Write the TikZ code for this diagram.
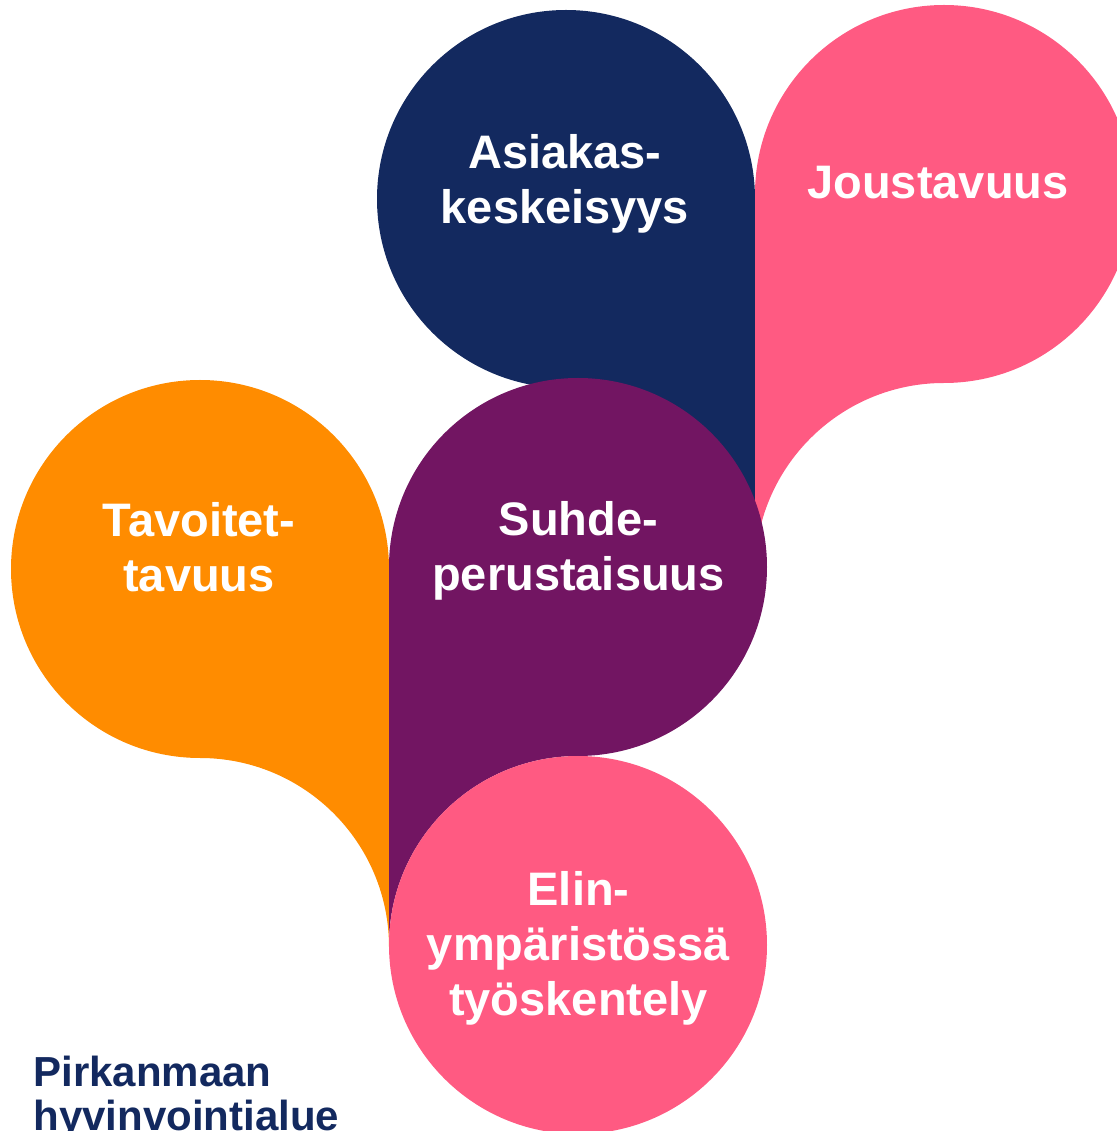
\documentclass[tikz,border=0pt]{standalone}
\usepackage{fontspec}
\setmainfont{Liberation Sans}
\definecolor{phnavy}{RGB}{19,41,95}
\definecolor{phpink}{RGB}{255,90,130}
\definecolor{phpurple}{RGB}{114,21,98}
\definecolor{phorange}{RGB}{255,140,0}
\tikzset{
    drop/.style={fill=#1, draw=none},
    droptext/.style={%
        text=white, align=center,
        font=\fontsize{23.5}{27.5}\selectfont\bfseries
        },
    logotext/.style={%
        text=phnavy, align=left, inner sep=0pt,
        font=\fontsize{21}{22}\selectfont\bfseries
        }
}
\begin{document}
\begin{tikzpicture}[x=0.5pt, y=0.5pt]

\useasboundingbox (0,0) rectangle (1117,1131);
\clip (0,0) rectangle (1117,1131);

% drops, tail to the right
\fill[drop=phorange] (389,184) -- (389,562) arc[start angle=0, end angle=270, radius=94.5pt] arc[start angle=90, end angle=0, radius=94.5pt] -- cycle;

\fill[drop=phnavy] (755,554) -- (755,932) arc[start angle=0, end angle=270, radius=94.5pt] arc[start angle=90, end angle=0, radius=94.5pt] -- cycle;

% drops, tail to the left
\fill[drop=phpink] (755,559) -- (755,937) arc[start angle=180, end angle=-90, radius=94.5pt] arc[start angle=90, end angle=180, radius=94.5pt] -- cycle;

\fill[drop=phpurple] (389,186) -- (389,564) arc[start angle=180, end angle=-90, radius=94.5pt] arc[start angle=90, end angle=180, radius=94.5pt] -- cycle;

\fill[drop=phpink] (578,186) circle[radius=94.5pt];

\node[droptext] (asiakas) at (565,947) {Asiakas-\\keskeisyys};

\node[droptext] (joustavuus) at (938,948) {Joustavuus};

\node[droptext] (tavoite) at (199,583.5) {Tavoitet-\\tavuus};

\node[droptext] (suhde) at (578.5,580.5) {Suhde-\\perustaisuus};

\node[droptext] (elin) at (578.5,183) {Elin-\\ympäristössä\\työskentely};

\node[logotext, anchor=north west] (logo) at (33,75) {Pirkanmaan\\hyvinvointialue};

\end{tikzpicture}
\end{document}
